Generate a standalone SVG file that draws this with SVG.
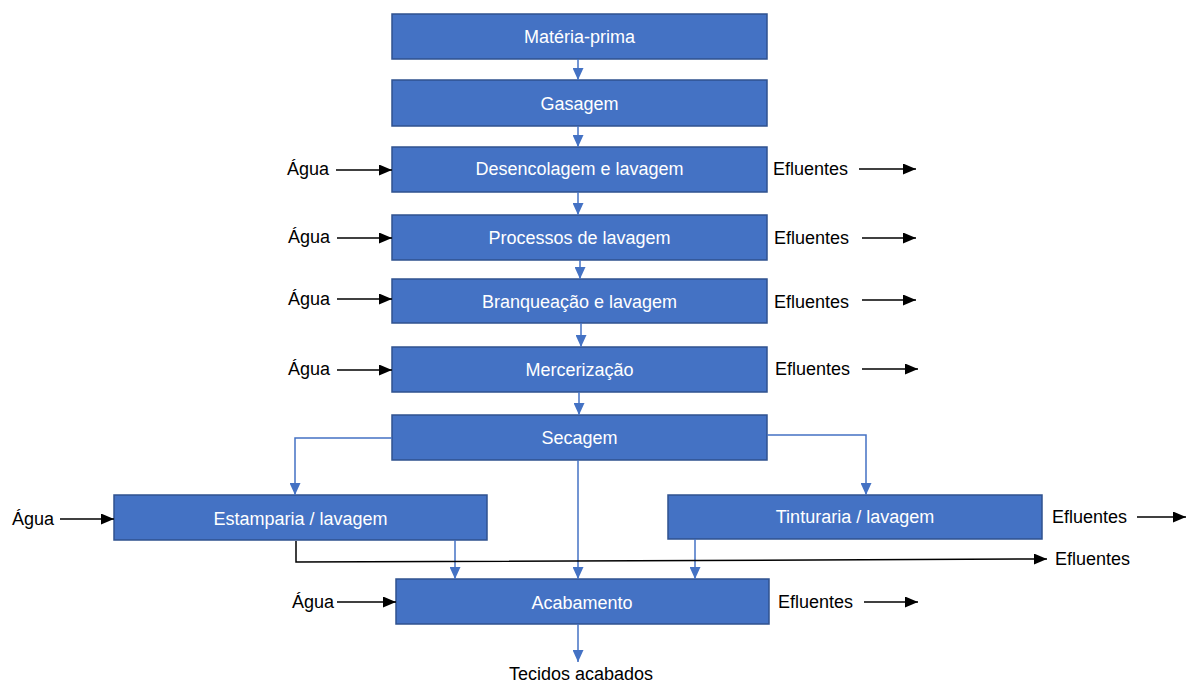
<svg xmlns="http://www.w3.org/2000/svg" width="1186" height="684" viewBox="0 0 1186 684">
  <style>
    .box { fill: #4472C4; stroke: #2F528F; stroke-width: 1.5; }
    .btxt { font-family: "Liberation Sans", Arial, sans-serif; font-size: 18px; fill: #ffffff; text-anchor: middle; }
    .lbl { font-family: "Liberation Sans", Arial, sans-serif; font-size: 18px; fill: #000000; }
    .flow { fill: none; stroke: #4472C4; stroke-width: 1.5; }
    .io { fill: none; stroke: #000000; stroke-width: 1.5; }
  </style>
  <defs>
    <marker id="blueHead" markerUnits="userSpaceOnUse" markerWidth="12" markerHeight="11" refX="12" refY="5.5" orient="auto">
      <path d="M0,0 L12,5.5 L0,11 z" fill="#4472C4"/>
    </marker>
    <marker id="blackHead" markerUnits="userSpaceOnUse" markerWidth="13" markerHeight="11" refX="13" refY="5.5" orient="auto">
      <path d="M0,0 L13,5.5 L0,11 z" fill="#000000"/>
    </marker>
  </defs>

  <!-- process steps -->
  <g id="materia-prima">
    <rect class="box" x="392" y="14" width="375" height="45"/>
    <text class="btxt" x="579.5" y="43">Matéria-prima</text>
  </g>
  <g id="gasagem">
    <rect class="box" x="392" y="80" width="375" height="46"/>
    <text class="btxt" x="579.5" y="110">Gasagem</text>
  </g>
  <g id="desencolagem">
    <rect class="box" x="392" y="147" width="375" height="45"/>
    <text class="btxt" x="579.5" y="175">Desencolagem e lavagem</text>
  </g>
  <g id="processos-lavagem">
    <rect class="box" x="392" y="215" width="375" height="45"/>
    <text class="btxt" x="579.5" y="244">Processos de lavagem</text>
  </g>
  <g id="branqueacao">
    <rect class="box" x="392" y="279" width="375" height="44"/>
    <text class="btxt" x="579.5" y="308">Branqueação e lavagem</text>
  </g>
  <g id="mercerizacao">
    <rect class="box" x="392" y="347" width="375" height="45"/>
    <text class="btxt" x="579.5" y="376">Mercerização</text>
  </g>
  <g id="secagem">
    <rect class="box" x="392" y="415" width="375" height="45"/>
    <text class="btxt" x="579.5" y="444">Secagem</text>
  </g>
  <g id="estamparia">
    <rect class="box" x="114" y="495" width="373" height="45"/>
    <text class="btxt" x="300.5" y="525">Estamparia / lavagem</text>
  </g>
  <g id="tinturaria">
    <rect class="box" x="668" y="495" width="374" height="44"/>
    <text class="btxt" x="855" y="523">Tinturaria / lavagem</text>
  </g>
  <g id="acabamento">
    <rect class="box" x="396" y="579" width="373" height="45"/>
    <text class="btxt" x="582" y="609">Acabamento</text>
  </g>

  <!-- inputs and outputs -->
  <g id="labels">
    <text class="lbl" x="287" y="175">Água</text>
    <text class="lbl" x="288" y="243">Água</text>
    <text class="lbl" x="288" y="305">Água</text>
    <text class="lbl" x="288" y="375">Água</text>
    <text class="lbl" x="12" y="525">Água</text>
    <text class="lbl" x="292" y="608">Água</text>
    <text class="lbl" x="773" y="175">Efluentes</text>
    <text class="lbl" x="774" y="244">Efluentes</text>
    <text class="lbl" x="774" y="308">Efluentes</text>
    <text class="lbl" x="775" y="375">Efluentes</text>
    <text class="lbl" x="1052" y="523">Efluentes</text>
    <text class="lbl" x="1055" y="565">Efluentes</text>
    <text class="lbl" x="778" y="608">Efluentes</text>
    <text class="lbl" x="581" y="680" font-size="17" text-anchor="middle">Tecidos acabados</text>
  </g>

  <!-- connectors -->
  <g id="connectors">
    <line class="flow" x1="578" y1="59" x2="578" y2="80" marker-end="url(#blueHead)"/>
    <line class="flow" x1="578" y1="126" x2="578" y2="147" marker-end="url(#blueHead)"/>
    <line class="flow" x1="578" y1="192" x2="578" y2="215" marker-end="url(#blueHead)"/>
    <line class="flow" x1="580" y1="260" x2="580" y2="279" marker-end="url(#blueHead)"/>
    <line class="flow" x1="581" y1="323" x2="581" y2="347" marker-end="url(#blueHead)"/>
    <line class="flow" x1="579" y1="392" x2="579" y2="415" marker-end="url(#blueHead)"/>
    <polyline class="flow" points="392,438 295,438 295,495" marker-end="url(#blueHead)"/>
    <polyline class="flow" points="767,435 866,435 866,495" marker-end="url(#blueHead)"/>
    <line class="flow" x1="578" y1="460" x2="578" y2="579" marker-end="url(#blueHead)"/>
    <line class="flow" x1="455" y1="540" x2="455" y2="579" marker-end="url(#blueHead)"/>
    <line class="flow" x1="695" y1="539" x2="695" y2="579" marker-end="url(#blueHead)"/>
    <line class="flow" x1="578" y1="624" x2="578" y2="662" marker-end="url(#blueHead)"/>

    <line class="io" x1="336" y1="170" x2="392" y2="170" marker-end="url(#blackHead)"/>
    <line class="io" x1="337" y1="238" x2="392" y2="238" marker-end="url(#blackHead)"/>
    <line class="io" x1="337" y1="299" x2="392" y2="299" marker-end="url(#blackHead)"/>
    <line class="io" x1="337" y1="370" x2="392" y2="370" marker-end="url(#blackHead)"/>
    <line class="io" x1="60" y1="519" x2="114" y2="519" marker-end="url(#blackHead)"/>
    <line class="io" x1="337" y1="602" x2="396" y2="602" marker-end="url(#blackHead)"/>

    <line class="io" x1="859" y1="169" x2="916" y2="169" marker-end="url(#blackHead)"/>
    <line class="io" x1="862" y1="238" x2="916" y2="238" marker-end="url(#blackHead)"/>
    <line class="io" x1="862" y1="300" x2="916" y2="300" marker-end="url(#blackHead)"/>
    <line class="io" x1="862" y1="369" x2="918" y2="369" marker-end="url(#blackHead)"/>
    <line class="io" x1="1137" y1="517" x2="1186" y2="517" marker-end="url(#blackHead)"/>
    <line class="io" x1="864" y1="602" x2="918" y2="602" marker-end="url(#blackHead)"/>
    <polyline class="io" points="296,541 296,562 1047,559" marker-end="url(#blackHead)"/>
  </g>
</svg>
